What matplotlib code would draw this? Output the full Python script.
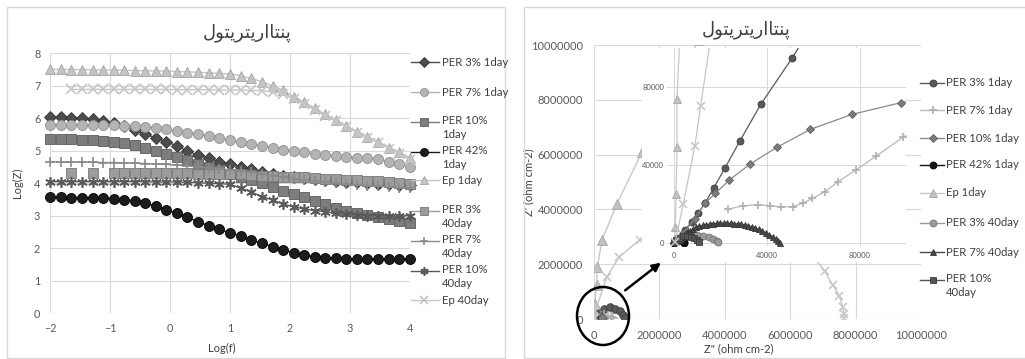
import numpy as np
import matplotlib.pyplot as plt
from matplotlib.lines import Line2D
from matplotlib.patches import Rectangle, Ellipse, FancyArrowPatch

W, H = 1025, 359
plt.rcParams['font.family'] = ['Lato', 'DejaVu Sans']
nan = np.nan

# -----------------------------
# Left panel data: Log(f) vs Log(Z)
# -----------------------------
log_f = [-2.00, -1.82, -1.65, -1.47, -1.29, -1.12, -0.94, -0.76, -0.59, -0.41, -0.24, -0.06,
         0.12, 0.29, 0.47, 0.65, 0.82, 1.00, 1.18, 1.35, 1.53, 1.71, 1.88, 2.06, 2.24, 2.41,
         2.59, 2.76, 2.94, 3.12, 3.29, 3.47, 3.65, 3.82, 4.00]

per3_1day = [6.02, 6.02, 6.01, 6.00, 5.97, 5.91, 5.84, 5.75, 5.63, 5.50, 5.39, 5.27, 5.14, 4.98,
             4.86, 4.76, 4.66, 4.58, 4.50, 4.42, 4.35, 4.28, 4.22, 4.18, 4.14, 4.11, 4.08, 4.06,
             4.04, 4.02, 4.00, 3.98, 3.96, 3.95, 3.93]
per7_1day = [5.80, 5.80, 5.80, 5.80, 5.79, 5.78, 5.77, 5.76, 5.74, 5.72, 5.70, 5.65, 5.60, 5.55,
             5.50, 5.44, 5.37, 5.31, 5.25, 5.20, 5.15, 5.09, 5.03, 4.98, 4.94, 4.90, 4.86, 4.83,
             4.80, 4.78, 4.76, 4.73, 4.66, 4.58, 4.50]
per10_1day = [5.35, 5.35, 5.34, 5.33, 5.32, 5.30, 5.27, 5.23, 5.17, 5.09, 5.00, 4.90, 4.80, 4.70,
              4.60, 4.50, 4.40, 4.28, 4.18, 4.08, 3.99, 3.89, 3.76, 3.66, 3.56, 3.45, 3.34, 3.24,
              3.15, 3.07, 3.02, 2.94, 2.88, 2.84, 2.78]
per42_1day = [3.56, 3.56, 3.55, 3.55, 3.55, 3.53, 3.52, 3.48, 3.45, 3.37, 3.29, 3.17, 3.07, 2.94,
              2.81, 2.68, 2.57, 2.47, 2.37, 2.25, 2.14, 2.04, 1.94, 1.86, 1.78, 1.73, 1.70, 1.68,
              1.67, 1.66, 1.66, 1.66, 1.66, 1.66, 1.66]
ep_1day = [7.50, 7.50, 7.49, 7.49, 7.48, 7.48, 7.47, 7.47, 7.46, 7.45, 7.45, 7.44, 7.43, 7.42,
           7.41, 7.39, 7.37, 7.36, 7.30, 7.22, 7.12, 6.99, 6.86, 6.66, 6.48, 6.30, 6.11, 5.93,
           5.75, 5.58, 5.43, 5.27, 5.09, 4.94, 4.78]
per3_40day = [nan, nan, 4.30, nan, 4.30, nan, 4.30, 4.30, 4.30, 4.30, 4.30, 4.30, 4.30, 4.30,
              4.29, 4.29, 4.28, 4.28, 4.27, 4.25, 4.23, 4.21, 4.20, 4.19, 4.17, 4.15, 4.13, 4.11,
              4.10, 4.09, 4.07, 4.05, 4.02, 4.00, 3.97]
per7_40day = [4.65, 4.65, 4.65, 4.64, 4.64, 4.63, 4.63, 4.62, 4.61, 4.60, 4.59, 4.57, 4.55, 4.52,
              4.50, 4.47, 4.44, 4.41, 4.37, 4.33, 4.28, 4.23, 4.18, 4.13, 4.09, 4.05, 4.02, 3.99,
              3.96, 3.94, 3.92, 3.90, 3.88, 3.86, 3.85]
per10_40day = [4.04, 4.04, 4.04, 4.04, 4.04, 4.04, 4.04, 4.04, 4.04, 4.04, 4.03, 4.03, 4.03, 4.02,
               4.01, 3.99, 3.98, 3.96, 3.84, 3.73, 3.58, 3.48, 3.35, 3.27, 3.20, 3.15, 3.12, 3.07,
               3.05, 3.02, 3.00, 3.00, 2.98, 2.98, 3.00]
ep_40day = [nan, nan, 6.88, 6.88, 6.88, 6.88, 6.88, 6.88, 6.88, 6.88, 6.88, 6.88, 6.87, 6.87,
            6.87, 6.87, 6.86, 6.86, 6.86, 6.85, 6.84, 6.80, 6.75, 6.58, 6.42, 6.25, 6.07, 5.90,
            5.72, 5.55, 5.40, 5.24, 5.06, 4.90, 4.70]

# -----------------------------
# Right panel data: Nyquist, Z'' vs Z' (ohm cm-2)
# -----------------------------
n_per3_1_x = [0, 1300, 4700, 7600, 10300, 13300, 17200, 21900, 28400, 37400, 51000, 80000,
              150000, 300000, 480000, 650000, 800000, 900000, 950000]
n_per3_1_y = [0, 2600, 6700, 10900, 15200, 20300, 28400, 38300, 52300, 71100, 95000, 150000,
              260000, 380000, 420000, 380000, 290000, 160000, 50000]
n_per7_1_x = [23400, 29800, 36300, 41300, 46300, 51100, 55400, 59700, 65000, 70700, 78300,
              87200, 98600, 130000, 200000, 300000, 420000, 520000, 580000]
n_per7_1_y = [17400, 19100, 19700, 19100, 18600, 18600, 20300, 22900, 26300, 31400, 37400,
              44600, 54200, 75000, 110000, 130000, 120000, 80000, 30000]
n_per10_1_x = [0, 4000, 9000, 13300, 17900, 23800, 32700, 44200, 58800, 76800, 97900, 125000,
               160000, 200000, 230000]
n_per10_1_y = [0, 5000, 12500, 20300, 25500, 32300, 40400, 49000, 58300, 66000, 72000, 78000,
               75000, 55000, 20000]
n_per42_1_x = [200, 600, 1100, 1700, 2400, 3100, 3700, 4200, 4500]
n_per42_1_y = [200, 700, 1200, 1500, 1600, 1400, 1000, 500, 100]
n_ep1_x = [300, 600, 900, 1300, 1300, 20000, 80000, 100000, 250000, 700000, 1470000, 2300000,
           3200000]
n_ep1_y = [1000, 8000, 25000, 49000, 74000, 550000, 1250000, 1900000, 2900000, 4200000,
           6100000, 8000000, 10200000]
n_per3_40_x = [300, 1500, 3000, 5000, 7500, 10000, 12500, 15000, 17000, 18500, 19000]
n_per3_40_y = [300, 1500, 2600, 3400, 3900, 4000, 3800, 3200, 2300, 1200, 300]
n_per7_40_x = [2500, 3500, 4500, 5500, 6800, 8000, 9500, 11000, 12500, 14000, 15500, 17000,
               18500, 20000, 21500, 23000, 24500, 26000, 27500, 29000, 30500, 32000, 33500,
               35000, 36500, 38000, 39500, 41000, 42500, 43800, 44800, 45500]
n_per7_40_y = [1500, 3000, 4300, 5400, 6400, 7200, 8000, 8600, 9100, 9500, 9800, 10000, 10100,
               10200, 10200, 10200, 10100, 10000, 9800, 9600, 9300, 8900, 8400, 7800, 7100, 6300,
               5400, 4300, 3200, 2000, 900, 200]
n_per10_40_x = [200, 1000, 2200, 3800, 5500, 7200, 8800, 10000, 11000]
n_per10_40_y = [300, 1500, 2700, 3400, 3600, 3200, 2400, 1400, 400]
n_ep40_x = [600, 4000, 9000, 11500, 40000, 400000, 760000, 1400000, 2500000, 4000000, 5500000,
            6500000, 7050000, 7300000, 7500000, 7600000, 7650000, 7650000]
n_ep40_y = [800, 20000, 49700, 70300, 300000, 1550000, 2250000, 2900000, 3800000, 4100000,
            3500000, 2600000, 1750000, 1240000, 850000, 450000, 200000, 50000]

left_labels = ['PER 3% 1day', 'PER 7% 1day', 'PER 10%\n1day', 'PER 42%\n1day', 'Ep 1day',
               'PER 3%\n40day', 'PER 7%\n40day', 'PER 10%\n40day', 'Ep 40day']
right_labels = ['PER 3% 1day', 'PER 7% 1day', 'PER 10% 1day', 'PER 42% 1day', 'Ep 1day',
                'PER 3% 40day', 'PER 7% 40day', 'PER 10%\n40day']

# title: پنتااریتریتول written with Arabic presentation forms in visual order
title_fa = '\uFEDD\uFEEE\uFE98\uFBFE\uFEAE\uFE98\uFBFE\uFEAD\uFE8D\uFE8E\uFE98\uFEE8\uFB58'

# -----------------------------
# Styles
# -----------------------------
def sty(marker, ms, face, edge, line, mew=0.6):
    return dict(marker=marker, ms=ms, mfc=face, mec=edge, color=line, mew=mew)

ASTER = (6, 2, 0)
left_styles = [
    sty('D', 6.0, '#4d4d4d', '#333333', '#4d4d4d'),
    sty('o', 7.2, '#b4b4b4', '#8e8e8e', '#b4b4b4'),
    sty('s', 6.8, '#7d7d7d', '#5c5c5c', '#7d7d7d'),
    sty('o', 7.2, '#1c1c1c', '#000000', '#1c1c1c'),
    sty('^', 7.6, '#c4c4c4', '#a4a4a4', '#c4c4c4'),
    sty('s', 6.8, '#9c9c9c', '#777777', '#9c9c9c'),
    sty('+', 7.5, '#8a8a8a', '#8a8a8a', '#8a8a8a', 1.2),
    sty(ASTER, 7.5, '#5a5a5a', '#5a5a5a', '#5a5a5a', 1.2),
    sty('x', 6.5, '#c6c6c6', '#c6c6c6', '#c6c6c6', 1.2),
]
right_styles = [
    sty('o', 5.0, '#5a5a5a', '#3c3c3c', '#5a5a5a'),
    sty('+', 6.0, '#b0b0b0', '#b0b0b0', '#b8b8b8', 1.2),
    sty('D', 4.4, '#7d7d7d', '#5e5e5e', '#8a8a8a'),
    sty('o', 5.0, '#141414', '#000000', '#141414'),
    sty('^', 6.0, '#c2c2c2', '#a6a6a6', '#c8c8c8'),
    sty('o', 5.0, '#9a9a9a', '#777777', '#9a9a9a'),
    sty('^', 4.6, '#4a4a4a', '#333333', '#4a4a4a'),
    sty('s', 4.6, '#555555', '#3a3a3a', '#555555'),
    sty('x', 5.5, '#c6c6c6', '#c6c6c6', '#c6c6c6', 1.1),
]

GRID = '#d9d9d9'
TICK = '#595959'
TXT = '#404040'


def fx(x):
    return x / W


def fy(y):
    return 1 - y / H


def ax_rect(l, t, r, b):
    return [fx(l), fy(b), (r - l) / W, (b - t) / H]


fig = plt.figure(figsize=(W / 100, H / 100), dpi=100)

# panel frames
for l, r in [(7, 505), (524, 1040)]:
    fig.add_artist(Rectangle((fx(l), fy(358)), (r - l) / W, (358 - 7) / H,
                             transform=fig.transFigure, fill=False, ec='#d9d9d9', lw=1))

# -----------------------------
# Left panel
# -----------------------------
ax1 = fig.add_axes(ax_rect(50, 53, 410, 313))
left_series = [per3_1day, per7_1day, per10_1day, per42_1day, ep_1day,
               per3_40day, per7_40day, per10_40day, ep_40day]
for ys, st in zip(left_series, left_styles):
    ax1.plot(log_f, ys, lw=1, clip_on=False, **st)
ax1.set_xlim(-2, 4)
ax1.set_ylim(0, 8)
ax1.set_xticks([-2, -1, 0, 1, 2, 3, 4])
ax1.set_yticks(range(9))
ax1.grid(True, color=GRID, lw=0.8)
ax1.set_axisbelow(True)
for s in ax1.spines.values():
    s.set_visible(False)
ax1.tick_params(length=0, labelsize=7.8, colors=TICK, pad=7)
ax1.set_xlabel('Log(f)', fontsize=8, color=TXT)
ax1.xaxis.set_label_coords(0.478, -0.115)
ax1.set_ylabel('Log(Z)', fontsize=8, color=TXT)
ax1.yaxis.set_label_coords(-0.075, 0.5)
fig.text(fx(247), fy(33), title_fa, family=['DejaVu Sans'], fontsize=13,
         color='#404040', ha='center', va='center')

# -----------------------------
# Right panel: main axes
# -----------------------------
ax2 = fig.add_axes(ax_rect(594, 45, 921, 319))
right_series = [(n_per3_1_x, n_per3_1_y), (n_per7_1_x, n_per7_1_y), (n_per10_1_x, n_per10_1_y),
                (n_per42_1_x, n_per42_1_y), (n_ep1_x, n_ep1_y), (n_per3_40_x, n_per3_40_y),
                (n_per7_40_x, n_per7_40_y), (n_per10_40_x, n_per10_40_y), (n_ep40_x, n_ep40_y)]
for (xs, ys), st in zip(right_series, right_styles):
    st2 = dict(st)
    st2['ms'] = st['ms'] * 1.1
    ax2.plot(xs, ys, lw=1, **st2)
ax2.set_xlim(0, 1e7)
ax2.set_ylim(0, 1e7)
big_ticks = [0, 2000000, 4000000, 6000000, 8000000, 10000000]
ax2.set_xticks(big_ticks)
ax2.set_xticklabels([str(t) for t in big_ticks])
ax2.set_yticks(big_ticks)
ax2.set_yticklabels([str(t) for t in big_ticks])
ax2.grid(True, color=GRID, lw=0.8)
ax2.set_axisbelow(True)
for s in ax2.spines.values():
    s.set_visible(False)
ax2.tick_params(length=0, labelsize=8, colors=TICK, pad=8)
ax2.set_xlabel('Z" (ohm cm-2)', fontsize=8, color=TXT)
ax2.xaxis.set_label_coords(0.443, -0.088)
ax2.set_ylabel("Z' (ohm cm-2)", fontsize=8, color=TXT)
ax2.yaxis.set_label_coords(-0.183, 0.5)
fig.text(fx(746), fy(30), title_fa, family=['DejaVu Sans'], fontsize=13,
         color='#404040', ha='center', va='center')

# white box behind the inset
fig.add_artist(Rectangle((fx(642), fy(262)), (906 - 642) / W, (262 - 48) / H,
                         transform=fig.transFigure, fc='white', ec='none', zorder=1))

# -----------------------------
# Inset (zoom on the origin)
# -----------------------------
ax3 = fig.add_axes(ax_rect(667, 48, 906, 246), zorder=2)
for (xs, ys), st in zip(right_series, right_styles):
    ax3.plot(xs, ys, lw=0.9, **st)
ax3.set_xlim(-3000, 100000)
ax3.set_ylim(-1500, 100000)
ax3.set_xticks([0, 40000, 80000])
ax3.set_xticklabels(['0', '40000', '80000'])
ax3.set_yticks([0, 40000, 80000])
ax3.set_yticklabels(['0', '40000', '80000'])
ax3.grid(True, color=GRID, lw=0.7)
ax3.set_axisbelow(True)
for s in ax3.spines.values():
    s.set_visible(False)
ax3.tick_params(length=0, labelsize=5.5, colors=TICK, pad=2)
ax3.tick_params(axis='x', pad=4)

# circle around the origin and arrow to the inset
fig.add_artist(Ellipse((fx(603), fy(316)), 52 / W, 58 / H, transform=fig.transFigure,
                       fill=False, ec='black', lw=1.8, zorder=3))
fig.add_artist(FancyArrowPatch((fx(623), fy(292)), (fx(663), fy(261)),
                               transform=fig.transFigure, arrowstyle='-|>',
                               mutation_scale=12, color='black', lw=1.8, zorder=3))


# -----------------------------
# Legends (drawn as in the original layout)
# -----------------------------
def draw_legend(labels, styles, x0, x1, xm, xt, ys, ms_scale):
    for lab, st, y in zip(labels, styles, ys):
        fig.add_artist(Line2D([fx(x0), fx(x1)], [fy(y), fy(y)], transform=fig.transFigure,
                              color=st['color'], lw=1))
        m = dict(st)
        m['ms'] = st['ms'] * ms_scale
        m.pop('color')
        fig.add_artist(Line2D([fx(xm)], [fy(y)], transform=fig.transFigure, ls='none', **m))
        if '\n' in lab:
            fig.text(fx(xt), fy(y - 7), lab, fontsize=8.2, color=TXT, va='top',
                     linespacing=1.3)
        else:
            fig.text(fx(xt), fy(y), lab, fontsize=8.2, color=TXT, va='center')


left_ys = [62, 92, 122, 152, 180, 211, 241, 271, 300]
draw_legend(left_labels, left_styles, 411, 439, 424, 442, left_ys, 0.8)
right_ys = [83, 110, 138, 165, 193, 223, 252, 280]
draw_legend(right_labels, right_styles[:8], 920, 944, 933, 946, right_ys, 1.0)

fig.savefig('out.png', dpi=100)
